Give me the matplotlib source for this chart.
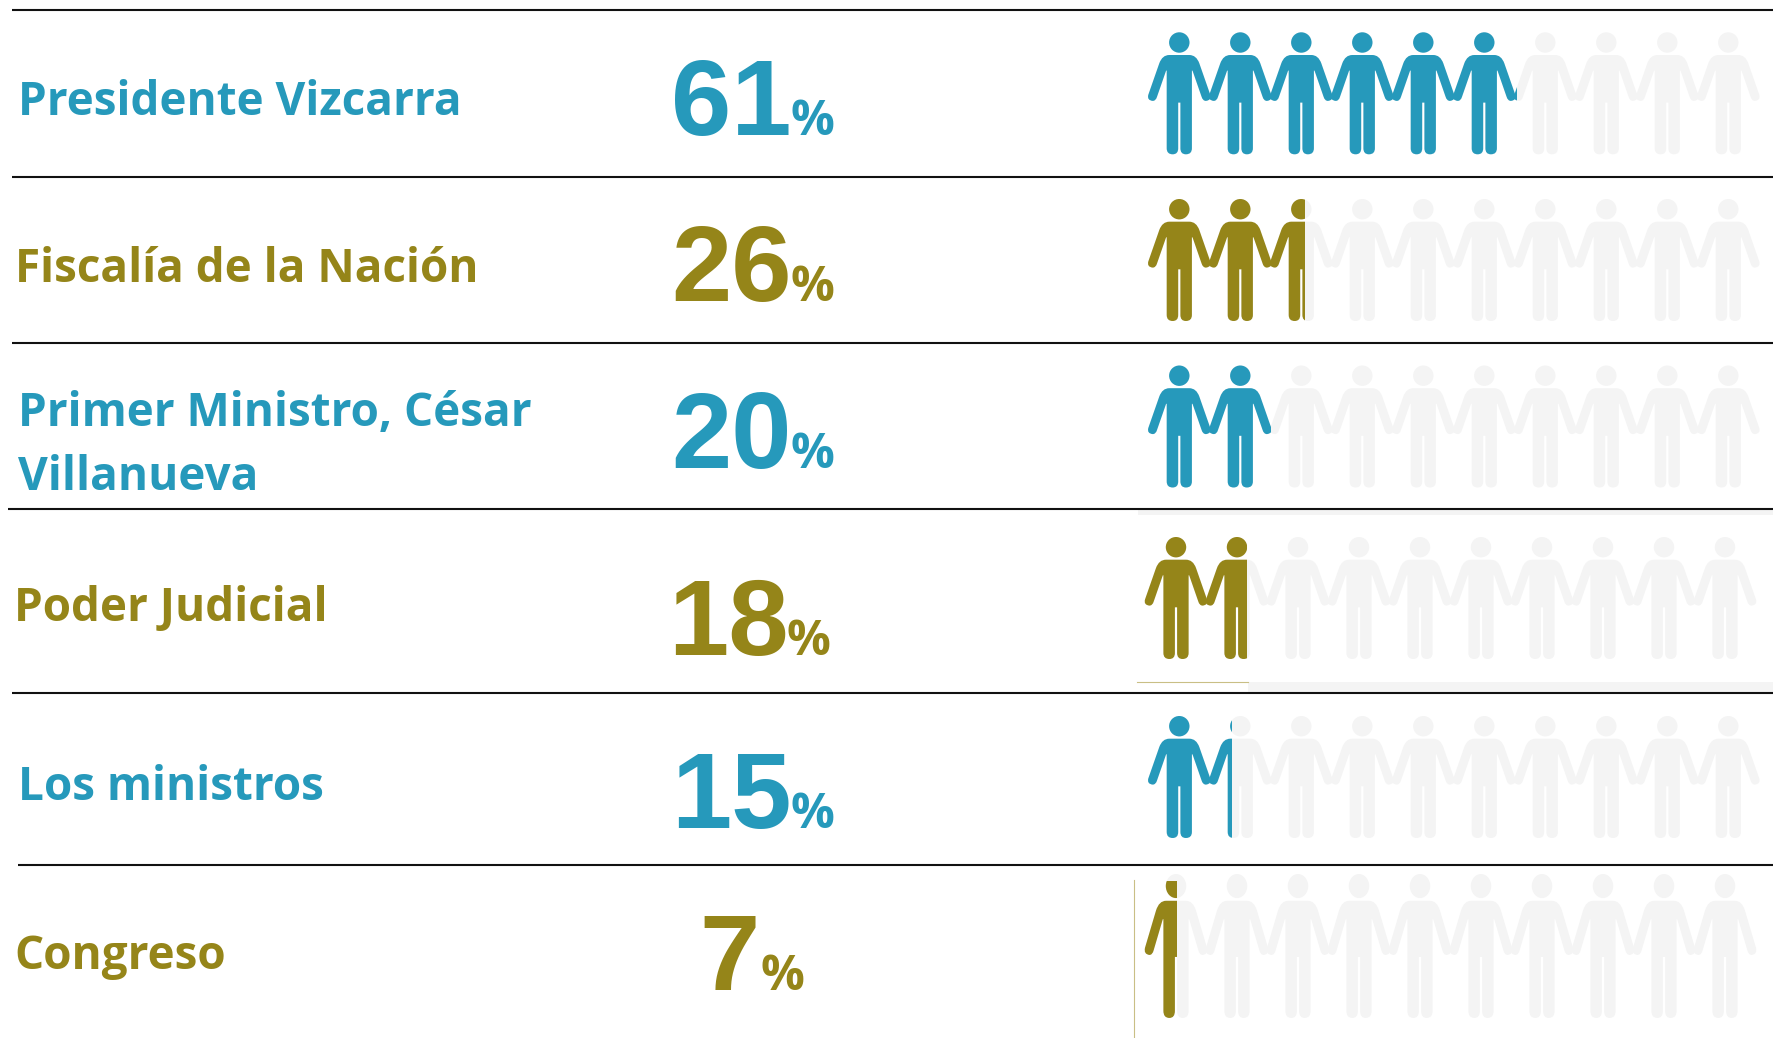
#!/usr/bin/env python3
import matplotlib
matplotlib.use('Agg')
import numpy as np
import matplotlib.pyplot as plt
from matplotlib.path import Path
from matplotlib.patches import PathPatch, Rectangle
from matplotlib.transforms import Affine2D

# data
LABELS = [["Presidente Vizcarra"], ["Fiscalía de la Nación"],
          ["Primer Ministro, César", "Villanueva"], ["Poder Judicial"],
          ["Los ministros"], ["Congreso"]]
PERCENTS = [61, 26, 20, 18, 15, 7]
FILLED_PEOPLE = [6.04, 2.56, 2.0, 1.67, 1.36, 0.52]
PEOPLE_PER_ROW = 10

BLUE = "#2699bb"
OLIVE = "#958519"
GREY = "#f4f4f4"
ROW_COLORS = [BLUE, OLIVE, BLUE, OLIVE, BLUE, OLIVE]

# layout, in reference pixels
W, H = 1773, 1038
RULE_Y = [10, 177, 343, 509, 693, 865]
RULE_X0 = [12, 12, 12, 8, 12, 18]
LABEL_X = [18, 15, 18, 14, 18, 14]
LABEL_BASE = [[115], [282], [426, 490], [621], [800], [969]]
NUM_X = [671, 671, 671, 668, 671, 699]
PCT_X = [790, 790, 790, 787, 790, 760]
NUM_BASE = [135, 301, 468, 655, 828, 990]
PEOPLE_CX = [1179.3, 1179.3, 1179.3, 1176, 1179.3, 1176]
PEOPLE_TOP = [32.3, 199, 365.5, 537, 716, 874]
PEOPLE_SY = [1, 1, 1, 1, 1, 1.18]
PITCH = 61
ARM_SPAN = 30.5

plt.rcParams['font.family'] = ['Open Sans', 'DejaVu Sans']


def person_path():
    # right half of the figure, mirrored for the left one
    half = Path(
        [(0, 22.7), (10, 22.7), (17, 22.7), (20, 31), (31, 62.5),
         (32.5, 68), (26.6, 68.6), (23.5, 68.6), (22.3, 64.5), (13.2, 38.3),
         (12.6, 38.3), (12.6, 116), (12.6, 122), (6.6, 122), (1.1, 122), (1.1, 116),
         (1.1, 70.3), (0, 70.3)],
        [Path.MOVETO, Path.LINETO, Path.CURVE3, Path.CURVE3, Path.LINETO,
         Path.CURVE3, Path.CURVE3, Path.CURVE3, Path.CURVE3, Path.LINETO,
         Path.LINETO, Path.LINETO, Path.CURVE3, Path.CURVE3, Path.CURVE3, Path.CURVE3,
         Path.LINETO, Path.LINETO])
    pts = half.to_polygons(closed_only=False)[0]
    mirrored = pts[::-1] * [-1, 1]
    body = Path(np.vstack([pts, mirrored, pts[:1]]), closed=True)
    head = Path.circle((0, 10.2), 10.2)
    return Path.make_compound_path(body, head)


def draw_people(ax, row, shape):
    cx0, top, sy = PEOPLE_CX[row], PEOPLE_TOP[row], PEOPLE_SY[row]
    left = cx0 - ARM_SPAN
    clip_x = left + FILLED_PEOPLE[row] * PITCH
    # the last row's coloured layer is cut off above the head
    clip_top = 881 if row == 5 else top - 5
    for i in range(PEOPLE_PER_ROW):
        tr = Affine2D().scale(1, sy).translate(cx0 + i * PITCH, top)
        ax.add_patch(PathPatch(shape.transformed(tr), fc=GREY, ec='none', lw=0))
    clip = Rectangle((left - 5, clip_top), clip_x - left + 5, 200, transform=ax.transData)
    for i in range(PEOPLE_PER_ROW):
        tr = Affine2D().scale(1, sy).translate(cx0 + i * PITCH, top)
        p = PathPatch(shape.transformed(tr), fc=ROW_COLORS[row], ec='none', lw=0)
        ax.add_patch(p)
        p.set_clip_path(clip)


def main():
    fig = plt.figure(figsize=(W / 100, H / 100), dpi=100)
    ax = fig.add_axes([0, 0, 1, 1])
    ax.set_xlim(0, W)
    ax.set_ylim(H, 0)
    ax.axis('off')

    # leftovers of the source graphic around the icons
    ax.add_patch(Rectangle((1138, 509), W - 1138, 6, fc=GREY, ec='none'))
    ax.add_patch(Rectangle((1248, 682), W - 1248, 11, fc=GREY, ec='none'))
    ax.plot([1137, 1248], [682, 682], color="#c9bf85", lw=0.8)
    ax.plot([1134, 1134], [880, H], color="#c9bf85", lw=0.8)

    for y, x0 in zip(RULE_Y, RULE_X0):
        ax.plot([x0, W], [y, y], color="#111111", lw=1.5, solid_capstyle='butt')

    shape = person_path()
    for row in range(len(PERCENTS)):
        color = ROW_COLORS[row]
        for line, base in zip(LABELS[row], LABEL_BASE[row]):
            ax.text(LABEL_X[row], base, line, color=color, fontsize=33, fontweight='bold',
                    va='baseline', ha='left')
        ax.text(NUM_X[row], NUM_BASE[row], str(PERCENTS[row]), color=color, fontsize=78,
                fontweight='bold', family=['Liberation Sans', 'DejaVu Sans'],
                va='baseline', ha='left')
        ax.text(PCT_X[row], NUM_BASE[row], "%", color=color, fontsize=35, fontweight='bold',
                va='baseline', ha='left')
        draw_people(ax, row, shape)

    fig.savefig("out.png", dpi=100, facecolor='white')
    plt.close(fig)


if __name__ == "__main__":
    main()
